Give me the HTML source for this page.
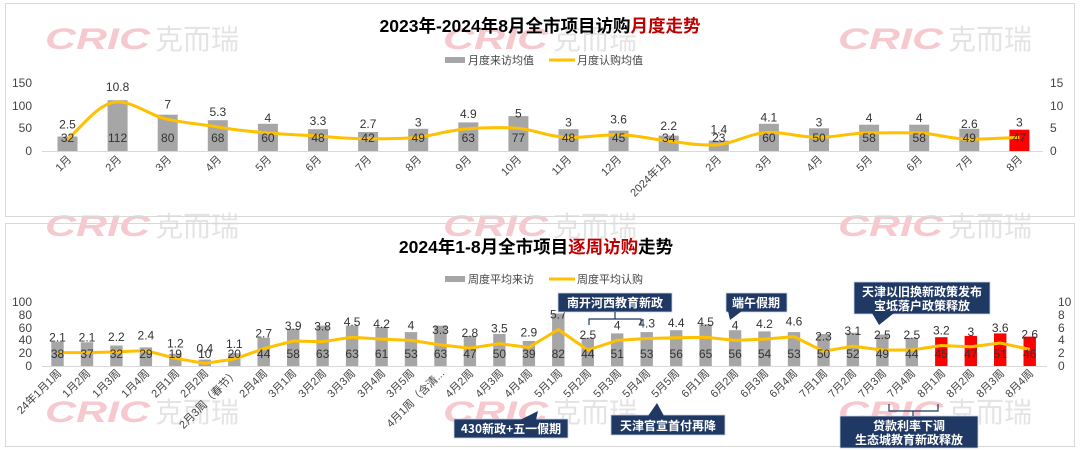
<!DOCTYPE html>
<html><head><meta charset="utf-8"><style>
html,body{margin:0;padding:0;background:#fff;}
svg{display:block;font-family:"Liberation Sans","Noto Sans CJK SC",sans-serif;}
.t{font-size:12px;fill:#333;text-anchor:middle}
.ax{font-size:12px;fill:#444}
.xl{font-size:11px;fill:#444;text-anchor:end}
.wmc{font-family:"Liberation Sans",sans-serif;font-weight:bold;font-style:italic;font-size:30px;fill:#f6c9ce}
.wmz{font-size:28px;fill:#e4e4e4;font-family:"Noto Sans CJK SC",sans-serif}
.ann{font-size:12px;fill:#fff;font-weight:bold;text-anchor:middle;font-family:"Noto Sans CJK SC",sans-serif}
</style></head><body>
<svg width="1080" height="450" viewBox="0 0 1080 450">
<rect width="1080" height="450" fill="#fff"/>
<!-- watermarks -->
<g>
<text class="wmc" x="45" y="49" textLength="105" lengthAdjust="spacingAndGlyphs">CRIC</text><text class="wmz" x="155" y="49">克而瑞</text>
<text class="wmc" x="443" y="49" textLength="105" lengthAdjust="spacingAndGlyphs">CRIC</text><text class="wmz" x="553" y="49">克而瑞</text>
<text class="wmc" x="838" y="49" textLength="105" lengthAdjust="spacingAndGlyphs">CRIC</text><text class="wmz" x="948" y="49">克而瑞</text>
<text class="wmc" x="45" y="236" textLength="105" lengthAdjust="spacingAndGlyphs">CRIC</text><text class="wmz" x="155" y="236">克而瑞</text>
<text class="wmc" x="443" y="236" textLength="105" lengthAdjust="spacingAndGlyphs">CRIC</text><text class="wmz" x="553" y="236">克而瑞</text>
<text class="wmc" x="838" y="236" textLength="105" lengthAdjust="spacingAndGlyphs">CRIC</text><text class="wmz" x="948" y="236">克而瑞</text>
<text class="wmc" x="45" y="422" textLength="105" lengthAdjust="spacingAndGlyphs">CRIC</text><text class="wmz" x="155" y="422">克而瑞</text>
<text class="wmc" x="443" y="422" textLength="105" lengthAdjust="spacingAndGlyphs">CRIC</text><text class="wmz" x="553" y="422">克而瑞</text>
<text class="wmc" x="838" y="422" textLength="105" lengthAdjust="spacingAndGlyphs">CRIC</text><text class="wmz" x="948" y="422">克而瑞</text>
</g>
<!-- panels -->
<rect x="5.5" y="3.5" width="1069" height="213" fill="none" stroke="#d9d9d9"/>
<rect x="5.5" y="223.5" width="1069" height="223" fill="none" stroke="#d9d9d9"/>

<!-- TOP CHART -->
<text x="540" y="32" text-anchor="middle" font-size="17.5" font-weight="bold" fill="#000">2023年-2024年8月全市项目访购<tspan fill="#c00000">月度走势</tspan></text>
<rect x="445" y="57" width="20" height="6" fill="#a6a6a6"/><text x="468" y="64" font-size="11" fill="#444">月度来访均值</text>
<line x1="549" y1="60" x2="575" y2="60" stroke="#ffc000" stroke-width="3"/><text x="577" y="64" font-size="11" fill="#444">月度认购均值</text>
<g class="ax" text-anchor="end"><text x="32" y="87">150</text><text x="32" y="110">100</text><text x="32" y="132">50</text><text x="32" y="155">0</text></g>
<g class="ax"><text x="1050" y="87">15</text><text x="1050" y="110">10</text><text x="1050" y="132">5</text><text x="1050" y="155">0</text></g>
<line x1="42" y1="151.5" x2="1043" y2="151.5" stroke="#d9d9d9"/>
<g fill="#a6a6a6">
<rect x="57.5" y="136.5" width="20" height="14.5"/>
<rect x="107.6" y="100.2" width="20" height="50.8"/>
<rect x="157.7" y="114.7" width="20" height="36.3"/>
<rect x="207.8" y="120.2" width="20" height="30.8"/>
<rect x="257.9" y="123.8" width="20" height="27.2"/>
<rect x="308" y="129.2" width="20" height="21.8"/>
<rect x="358.1" y="132" width="20" height="19"/>
<rect x="408.2" y="128.8" width="20" height="22.2"/>
<rect x="458.3" y="122.4" width="20" height="28.6"/>
<rect x="508.4" y="116.1" width="20" height="34.9"/>
<rect x="558.5" y="129.2" width="20" height="21.8"/>
<rect x="608.6" y="130.6" width="20" height="20.4"/>
<rect x="658.7" y="135.6" width="20" height="15.4"/>
<rect x="708.8" y="140.6" width="20" height="10.4"/>
<rect x="758.9" y="123.8" width="20" height="27.2"/>
<rect x="809" y="128.3" width="20" height="22.7"/>
<rect x="859.1" y="124.7" width="20" height="26.3"/>
<rect x="909.2" y="124.7" width="20" height="26.3"/>
<rect x="959.3" y="128.8" width="20" height="22.2"/>
<rect x="1009.4" y="129.7" width="20" height="21.3" fill="#ff0000"/>
</g>
<path d="M67.5,139.7 C84,124 100,102 117.6,102 C135,102 150,116 167.7,119.3 C185,123 200,124 217.8,127 C235,130 250,131.5 267.9,132.9 C285,134.5 300,135 318,136 C335,137.5 350,138.8 368.1,138.8 C385,138.8 400,139 418.2,137.4 C435,135 450,130 468.3,128.8 C485,127.5 500,127 518.4,128.3 C535,130 550,137 568.5,137.4 C585,137.8 600,134.7 618.6,134.7 C635,134.7 650,139 668.7,141 C685,143 700,146 718.8,144.7 C735,143 750,133 768.9,132.4 C785,132 800,137.4 819,137.4 C835,137.4 850,133 869.1,132.9 C885,132.9 900,132.5 919.2,132.9 C935,133.5 950,139 969.3,139.2 C985,139.4 1000,137.8 1019.4,137.4" fill="none" stroke="#ffc000" stroke-width="3"/>
<g class="t">
<text x="67.5" y="128.7">2.5</text><text x="117.6" y="91">10.8</text><text x="167.7" y="108.3">7</text><text x="217.8" y="116">5.3</text><text x="267.9" y="121.9">4</text><text x="318" y="125">3.3</text><text x="368.1" y="127.8">2.7</text><text x="418.2" y="126.4">3</text><text x="468.3" y="117.8">4.9</text><text x="518.4" y="117.3">5</text><text x="568.5" y="126.4">3</text><text x="618.6" y="123.7">3.6</text><text x="668.7" y="130">2.2</text><text x="718.8" y="133.7">1.4</text><text x="768.9" y="121.4">4.1</text><text x="819" y="126.4">3</text><text x="869.1" y="121.9">4</text><text x="919.2" y="121.9">4</text><text x="969.3" y="128.2">2.6</text><text x="1019.4" y="126.4">3</text>
</g>
<g class="t">
<text x="67.5" y="142">32</text><text x="117.6" y="142">112</text><text x="167.7" y="142">80</text><text x="217.8" y="142">68</text><text x="267.9" y="142">60</text><text x="318" y="142">48</text><text x="368.1" y="142">42</text><text x="418.2" y="142">49</text><text x="468.3" y="142">63</text><text x="518.4" y="142">77</text><text x="568.5" y="142">48</text><text x="618.6" y="142">45</text><text x="668.7" y="142">34</text><text x="718.8" y="142">23</text><text x="768.9" y="142">60</text><text x="819" y="142">50</text><text x="869.1" y="142">58</text><text x="919.2" y="142">58</text><text x="969.3" y="142">49</text><text x="1019.4" y="142">47</text>
</g>
<g class="xl">
<text transform="translate(72,160) rotate(-45)">1月</text>
<text transform="translate(122,160) rotate(-45)">2月</text>
<text transform="translate(172,160) rotate(-45)">3月</text>
<text transform="translate(222,160) rotate(-45)">4月</text>
<text transform="translate(272,160) rotate(-45)">5月</text>
<text transform="translate(322,160) rotate(-45)">6月</text>
<text transform="translate(372,160) rotate(-45)">7月</text>
<text transform="translate(422,160) rotate(-45)">8月</text>
<text transform="translate(472,160) rotate(-45)">9月</text>
<text transform="translate(522,160) rotate(-45)">10月</text>
<text transform="translate(572,160) rotate(-45)">11月</text>
<text transform="translate(622,160) rotate(-45)">12月</text>
<text transform="translate(672,160) rotate(-45)">2024年1月</text>
<text transform="translate(722,160) rotate(-45)">2月</text>
<text transform="translate(772,160) rotate(-45)">3月</text>
<text transform="translate(823,160) rotate(-45)">4月</text>
<text transform="translate(873,160) rotate(-45)">5月</text>
<text transform="translate(923,160) rotate(-45)">6月</text>
<text transform="translate(973,160) rotate(-45)">7月</text>
<text transform="translate(1023,160) rotate(-45)">8月</text>
</g>

<!-- BOTTOM CHART -->
<text x="536" y="253" text-anchor="middle" font-size="17.5" font-weight="bold" fill="#000">2024年1-8月全市项目<tspan fill="#c00000">逐周访购</tspan>走势</text>
<rect x="445" y="276" width="20" height="6" fill="#a6a6a6"/><text x="468" y="283" font-size="11" fill="#444">周度平均来访</text>
<line x1="549" y1="279" x2="575" y2="279" stroke="#ffc000" stroke-width="3"/><text x="577" y="283" font-size="11" fill="#444">周度平均认购</text>
<g class="ax" text-anchor="end"><text x="32" y="306">100</text><text x="32" y="319">80</text><text x="32" y="332">60</text><text x="32" y="344">40</text><text x="32" y="357">20</text><text x="32" y="370">0</text></g>
<g class="ax"><text x="1058" y="306">10</text><text x="1058" y="319">8</text><text x="1058" y="332">6</text><text x="1058" y="344">4</text><text x="1058" y="357">2</text><text x="1058" y="370">0</text></g>
<line x1="42" y1="366.5" x2="1047" y2="366.5" stroke="#d9d9d9"/>
<g fill="#a6a6a6">
<rect x="51.3" y="341.7" width="12.4" height="24.3"/>
<rect x="80.8" y="342.3" width="12.4" height="23.7"/>
<rect x="110.2" y="345.5" width="12.4" height="20.5"/>
<rect x="139.7" y="347.4" width="12.4" height="18.6"/>
<rect x="169.1" y="353.8" width="12.4" height="12.2"/>
<rect x="198.6" y="359.6" width="12.4" height="6.4"/>
<rect x="228.1" y="353.2" width="12.4" height="12.8"/>
<rect x="257.5" y="337.8" width="12.4" height="28.2"/>
<rect x="287" y="328.9" width="12.4" height="37.1"/>
<rect x="316.4" y="325.7" width="12.4" height="40.3"/>
<rect x="345.9" y="325.7" width="12.4" height="40.3"/>
<rect x="375.4" y="327" width="12.4" height="39"/>
<rect x="404.8" y="332.1" width="12.4" height="33.9"/>
<rect x="434.3" y="325.7" width="12.4" height="40.3"/>
<rect x="463.7" y="335.9" width="12.4" height="30.1"/>
<rect x="493.2" y="334" width="12.4" height="32"/>
<rect x="522.7" y="341" width="12.4" height="25"/>
<rect x="552.1" y="313.5" width="12.4" height="52.5"/>
<rect x="581.6" y="337.8" width="12.4" height="28.2"/>
<rect x="611" y="333.4" width="12.4" height="32.6"/>
<rect x="640.5" y="332.1" width="12.4" height="33.9"/>
<rect x="670" y="330.2" width="12.4" height="35.8"/>
<rect x="699.4" y="324.4" width="12.4" height="41.6"/>
<rect x="728.9" y="330.2" width="12.4" height="35.8"/>
<rect x="758.3" y="331.4" width="12.4" height="34.6"/>
<rect x="787.8" y="332.1" width="12.4" height="33.9"/>
<rect x="817.3" y="334" width="12.4" height="32"/>
<rect x="846.7" y="332.7" width="12.4" height="33.3"/>
<rect x="876.2" y="334.6" width="12.4" height="31.4"/>
<rect x="905.6" y="337.8" width="12.4" height="28.2"/>
<g fill="#ff0000">
<rect x="935.1" y="337.2" width="12.4" height="28.8"/>
<rect x="964.6" y="335.9" width="12.4" height="30.1"/>
<rect x="994" y="333.4" width="12.4" height="32.6"/>
<rect x="1023.5" y="336.6" width="12.4" height="29.4"/>
</g>
</g>
<polyline fill="none" stroke="#ffc000" stroke-width="3" stroke-linejoin="round" points="57.5,352.6 87,352.6 116.4,351.9 145.9,350.6 175.3,358.3 204.8,363.4 234.3,359 263.7,348.7 293.2,341 322.6,341.7 352.1,337.2 381.6,339.1 411,340.4 440.5,344.9 469.9,348.1 499.4,343.6 528.9,347.4 558.3,329.5 587.8,350 617.2,340.4 646.7,338.5 676.2,337.8 705.6,337.2 735.1,340.4 764.5,339.1 794,336.6 823.5,351.3 852.9,346.2 882.4,350 911.8,350 941.3,345.5 970.8,346.8 1000.2,343 1029.7,349.4"/>
<g class="t">
<text x="57.5" y="341.6">2.1</text><text x="87" y="341.6">2.1</text><text x="116.4" y="340.9">2.2</text><text x="145.9" y="339.6">2.4</text><text x="175.3" y="347.3">1.2</text><text x="204.8" y="352.4">0.4</text><text x="234.3" y="348">1.1</text><text x="263.7" y="337.7">2.7</text><text x="293.2" y="330">3.9</text><text x="322.6" y="330.7">3.8</text><text x="352.1" y="326.2">4.5</text><text x="381.6" y="328.1">4.2</text><text x="411" y="329.4">4</text><text x="440.5" y="333.9">3.3</text><text x="469.9" y="337.1">2.8</text><text x="499.4" y="332.6">3.5</text><text x="528.9" y="336.4">2.9</text><text x="558.3" y="318.5">5.7</text><text x="587.8" y="339">2.5</text><text x="617.2" y="329.4">4</text><text x="646.7" y="327.5">4.3</text><text x="676.2" y="326.8">4.4</text><text x="705.6" y="326.2">4.5</text><text x="735.1" y="329.4">4</text><text x="764.5" y="328.1">4.2</text><text x="794" y="325.6">4.6</text><text x="823.5" y="340.3">2.3</text><text x="852.9" y="335.2">3.1</text><text x="882.4" y="339">2.5</text><text x="911.8" y="339">2.5</text><text x="941.3" y="334.5">3.2</text><text x="970.8" y="335.8">3</text><text x="1000.2" y="332">3.6</text><text x="1029.7" y="338.4">2.6</text>
</g>
<g class="t">
<text x="57.5" y="358">38</text><text x="87" y="358">37</text><text x="116.4" y="358">32</text><text x="145.9" y="358">29</text><text x="175.3" y="358">19</text><text x="204.8" y="358">10</text><text x="234.3" y="358">20</text><text x="263.7" y="358">44</text><text x="293.2" y="358">58</text><text x="322.6" y="358">63</text><text x="352.1" y="358">63</text><text x="381.6" y="358">61</text><text x="411" y="358">53</text><text x="440.5" y="358">63</text><text x="469.9" y="358">47</text><text x="499.4" y="358">50</text><text x="528.9" y="358">39</text><text x="558.3" y="358">82</text><text x="587.8" y="358">44</text><text x="617.2" y="358">51</text><text x="646.7" y="358">53</text><text x="676.2" y="358">56</text><text x="705.6" y="358">65</text><text x="735.1" y="358">56</text><text x="764.5" y="358">54</text><text x="794" y="358">53</text><text x="823.5" y="358">50</text><text x="852.9" y="358">52</text><text x="882.4" y="358">49</text><text x="911.8" y="358">44</text><text x="941.3" y="358">45</text><text x="970.8" y="358">47</text><text x="1000.2" y="358">51</text><text x="1029.7" y="358">46</text>
</g>
<g class="xl">
<text transform="translate(62,374) rotate(-45)">24年1月1周</text>
<text transform="translate(91,374) rotate(-45)">1月2周</text>
<text transform="translate(121,374) rotate(-45)">1月3周</text>
<text transform="translate(150,374) rotate(-45)">1月4周</text>
<text transform="translate(180,374) rotate(-45)">2月1周</text>
<text transform="translate(209,374) rotate(-45)">2月2周</text>
<text transform="translate(239,374) rotate(-45)">2月3周（春节）</text>
<text transform="translate(268,374) rotate(-45)">2月4周</text>
<text transform="translate(297,374) rotate(-45)">3月1周</text>
<text transform="translate(327,374) rotate(-45)">3月2周</text>
<text transform="translate(356,374) rotate(-45)">3月3周</text>
<text transform="translate(386,374) rotate(-45)">3月4周</text>
<text transform="translate(415,374) rotate(-45)">3月5周</text>
<text transform="translate(445,374) rotate(-45)">4月1周（含清...</text>
<text transform="translate(474,374) rotate(-45)">4月2周</text>
<text transform="translate(504,374) rotate(-45)">4月3周</text>
<text transform="translate(533,374) rotate(-45)">4月4周</text>
<text transform="translate(563,374) rotate(-45)">5月1周</text>
<text transform="translate(592,374) rotate(-45)">5月2周</text>
<text transform="translate(622,374) rotate(-45)">5月3周</text>
<text transform="translate(651,374) rotate(-45)">5月4周</text>
<text transform="translate(680,374) rotate(-45)">5月5周</text>
<text transform="translate(710,374) rotate(-45)">6月1周</text>
<text transform="translate(739,374) rotate(-45)">6月2周</text>
<text transform="translate(769,374) rotate(-45)">6月3周</text>
<text transform="translate(798,374) rotate(-45)">6月4周</text>
<text transform="translate(828,374) rotate(-45)">7月1周</text>
<text transform="translate(857,374) rotate(-45)">7月2周</text>
<text transform="translate(887,374) rotate(-45)">7月3周</text>
<text transform="translate(916,374) rotate(-45)">7月4周</text>
<text transform="translate(946,374) rotate(-45)">8月1周</text>
<text transform="translate(975,374) rotate(-45)">8月2周</text>
<text transform="translate(1005,374) rotate(-45)">8月3周</text>
<text transform="translate(1034,374) rotate(-45)">8月4周</text>
</g>

<!-- annotations -->
<g fill="#1f3864" stroke="#c9d3e6" stroke-width="0.8">
<rect x="454" y="419" width="114" height="19"/>
<rect x="558" y="293" width="114" height="19"/>
<rect x="726" y="293" width="61" height="19"/>
<rect x="854" y="282" width="136" height="32"/>
<rect x="611" y="415" width="114" height="20"/>
<rect x="840" y="416" width="138" height="32"/>
</g>
<g fill="#1f3864">
<polygon points="520,420 536,420 538,411"/>
<polygon points="728,311 742,311 730,320"/>
<polygon points="872,313 894,313 879,325"/>
<polygon points="648,416 664,416 657,403"/>
</g>
<g fill="none" stroke="#1f3864" stroke-width="1.2">
<polyline points="589,325 589,319 641,319 641,325"/><line x1="615" y1="312" x2="615" y2="319"/>
<polyline points="889,404 889,411 938,411 938,404"/><line x1="913" y1="411" x2="913" y2="416"/>
</g>
<text class="ann" x="511" y="433">430新政+五一假期</text>
<text class="ann" x="615" y="307">南开河西教育新政</text>
<text class="ann" x="756" y="307">端午假期</text>
<text class="ann" x="922" y="296">天津以旧换新政策发布</text>
<text class="ann" x="922" y="310">宝坻落户政策释放</text>
<text class="ann" x="668" y="430">天津官宣首付再降</text>
<text class="ann" x="909" y="430">贷款利率下调</text>
<text class="ann" x="909" y="444">生态城教育新政释放</text>
</svg>
</body></html>
